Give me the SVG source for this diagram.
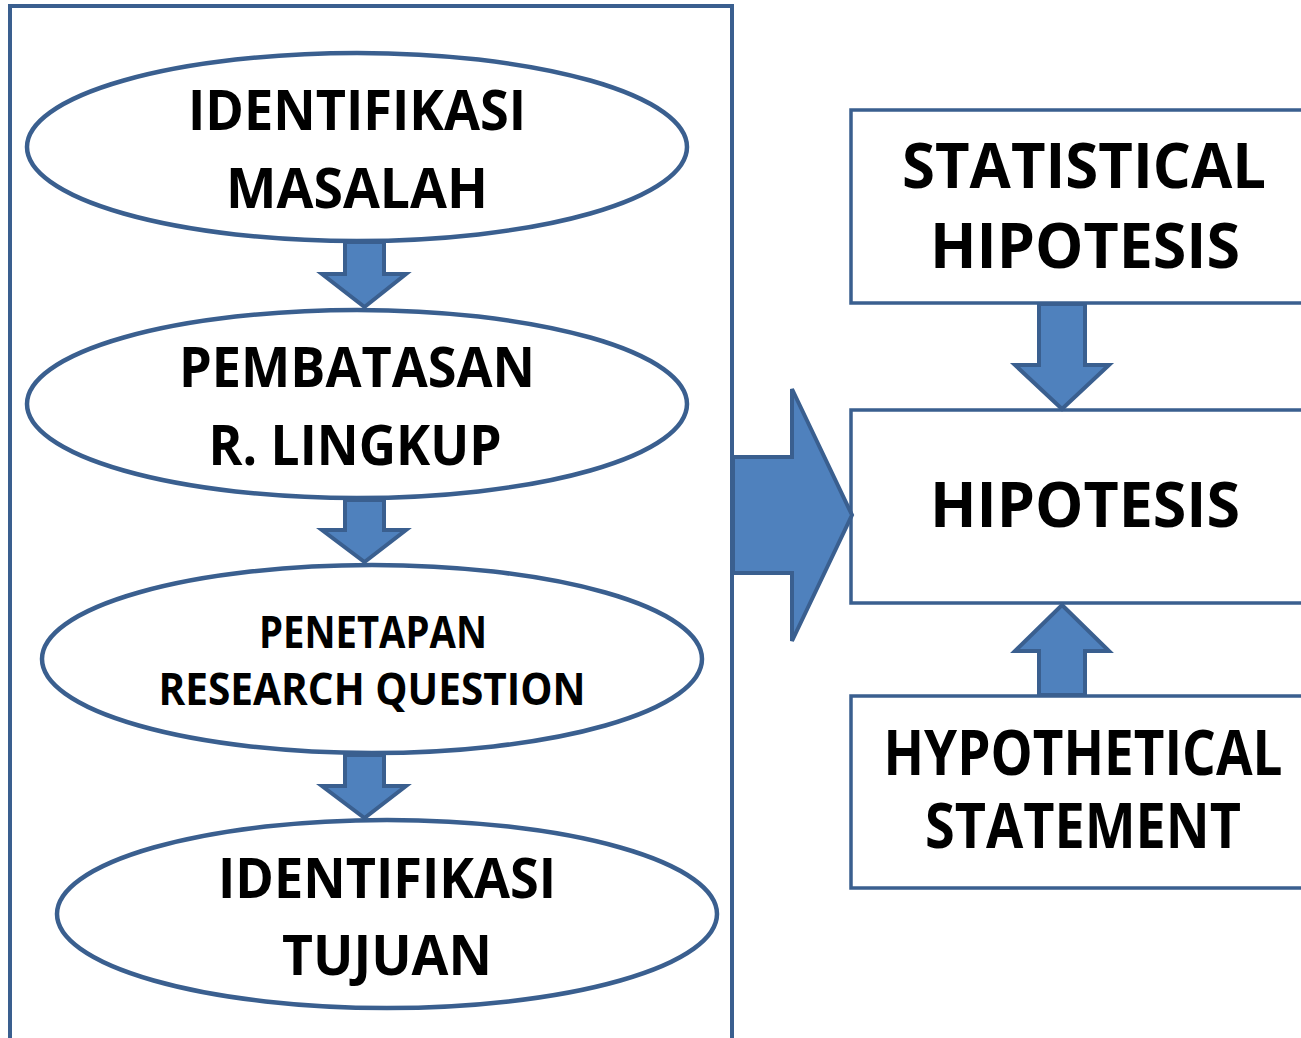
<svg xmlns="http://www.w3.org/2000/svg" width="1301" height="1038" viewBox="0 0 1301 1038">
<style>
.frame{fill:none;stroke:#3A5F8F;stroke-width:4}
.node{fill:#FFFFFF;stroke:#3A5F8F;stroke-width:4.5}
.box{fill:#FFFFFF;stroke:#3A5F8F;stroke-width:3.5}
.arr{fill:#4F81BD;stroke:#3A5F8F;stroke-width:4;stroke-linejoin:miter}
.t{font-family:"Open Sans","Liberation Sans",sans-serif;font-weight:700;fill:#000;text-anchor:middle}
.l{font-size:56px}
.m{font-size:44px}
.r{font-size:62px}
</style>
<rect width="1301" height="1038" fill="#FFFFFF"/>
<rect class="frame" x="10" y="6" width="722" height="1040"/>
<g id="identifikasi-masalah">
<ellipse class="node" cx="357" cy="147" rx="330" ry="94"/>
<text class="t l" x="357" y="130" textLength="338" lengthAdjust="spacingAndGlyphs">IDENTIFIKASI</text>
<text class="t l" x="357" y="208" textLength="262" lengthAdjust="spacingAndGlyphs">MASALAH</text>
</g>
<g id="pembatasan">
<ellipse class="node" cx="357" cy="404" rx="330" ry="94"/>
<text class="t l" x="357" y="387" textLength="356" lengthAdjust="spacingAndGlyphs">PEMBATASAN</text>
<text class="t l" x="355" y="465" textLength="293" lengthAdjust="spacingAndGlyphs">R. LINGKUP</text>
</g>
<g id="penetapan">
<ellipse class="node" cx="372" cy="659" rx="330" ry="94"/>
<text class="t m" x="373" y="648" textLength="228" lengthAdjust="spacingAndGlyphs">PENETAPAN</text>
<text class="t m" x="372" y="705" textLength="427" lengthAdjust="spacingAndGlyphs">RESEARCH QUESTION</text>
</g>
<g id="identifikasi-tujuan">
<ellipse class="node" cx="387" cy="914" rx="330" ry="94"/>
<text class="t l" x="387" y="898" textLength="338" lengthAdjust="spacingAndGlyphs">IDENTIFIKASI</text>
<text class="t l" x="387" y="975" textLength="210" lengthAdjust="spacingAndGlyphs">TUJUAN</text>
</g>
<g id="statistical-hipotesis">
<rect class="box" x="851" y="110" width="500" height="193"/>
<text class="t r" x="1084" y="188" textLength="364" lengthAdjust="spacingAndGlyphs">STATISTICAL</text>
<text class="t r" x="1085" y="268" textLength="310" lengthAdjust="spacingAndGlyphs">HIPOTESIS</text>
</g>
<g id="hipotesis">
<rect class="box" x="851" y="410" width="500" height="193"/>
<text class="t r" x="1085" y="527" textLength="310" lengthAdjust="spacingAndGlyphs">HIPOTESIS</text>
</g>
<g id="hypothetical-statement">
<rect class="box" x="851" y="696" width="500" height="192"/>
<text class="t r" x="1083" y="775" textLength="399" lengthAdjust="spacingAndGlyphs">HYPOTHETICAL</text>
<text class="t r" x="1083" y="848" textLength="316" lengthAdjust="spacingAndGlyphs">STATEMENT</text>
</g>
<g id="connectors">
<polygon class="arr" points="345,242 384,242 384,274 406,274 364.5,307 322,274 345,274"/>
<polygon class="arr" points="345,500 384,500 384,530 406,530 364.5,562 322,530 345,530"/>
<polygon class="arr" points="345,755 384,755 384,786 406,786 364.5,818 322,786 345,786"/>
<polygon class="arr" points="733,457 792,457 792,389 852,515 792,641 792,573 733,573"/>
<polygon class="arr" points="1039,304 1085,304 1085,365 1109,365 1062,409 1015,365 1039,365"/>
<polygon class="arr" points="1062,605 1109,651 1085,651 1085,695 1039,695 1039,651 1015,651"/>
</g>
</svg>
